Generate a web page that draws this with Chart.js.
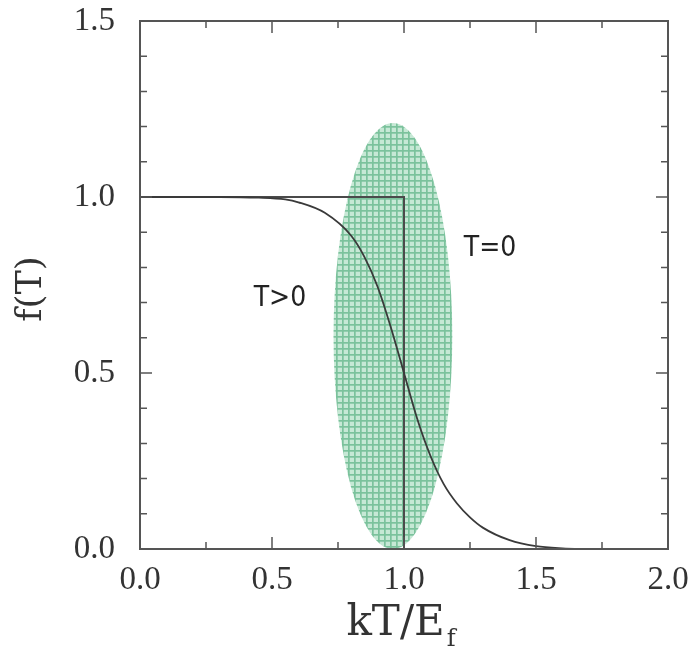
<!DOCTYPE html>
<html>
<head>
<meta charset="utf-8">
<script src="https://cdn.jsdelivr.net/npm/chart.js@4/dist/chart.umd.min.js"></script>
<style>
  html, body { margin: 0; padding: 0; background: #ffffff; }
  #wrap { width: 691px; height: 654px; }
</style>
</head>
<body>
<div id="wrap"><canvas id="c" width="691" height="654"></canvas></div>
<script>
// ---- data ----
const xLabelTicks = [0, 0.5, 1.0, 1.5, 2.0];
const yLabelTicks = [0, 0.5, 1.0, 1.5];

// T>0 (smooth) distribution
const fermiX = [0, 0.3, 0.45, 0.55, 0.6, 0.7, 0.8, 0.85, 0.9, 0.95, 1.0, 1.05, 1.1, 1.15, 1.2, 1.25, 1.3, 1.4, 1.5, 1.6, 1.7];
const fermiY = [1.0, 1.0, 0.998, 0.993, 0.985, 0.955, 0.89, 0.83, 0.745, 0.63, 0.50, 0.37, 0.265, 0.185, 0.13, 0.09, 0.06, 0.025, 0.008, 0.002, 0.0];

// T=0 step
const stepX = [0, 1.0, 1.0];
const stepY = [1.0, 1.0, 0.0];

// shaded ellipse (center, radii) in data units
const ellipseCenter = [0.958, 0.605];
const ellipseRadii = [0.225, 0.605];

// in-plot labels
const noteText = ['T>0', 'T=0'];
const noteX = [0.53, 1.326];
const noteY = [0.712, 0.852];

const xTitle = 'kT/E';
const xTitleSub = 'f';
const yTitle = 'f(T)';

// ---- chart ----
const toPts = (xs, ys) => xs.map((x, i) => ({ x: x, y: ys[i] }));

function makePattern(ctx) {
  const p = document.createElement('canvas');
  p.width = 6; p.height = 6;
  const g = p.getContext('2d');
  g.fillStyle = '#c6e8d5';
  g.fillRect(0, 0, 6, 6);
  g.fillStyle = '#7bc29c';
  g.fillRect(0, 0, 6, 1.7);
  g.fillRect(0, 0, 1.7, 6);
  return ctx.createPattern(p, 'repeat');
}

const decorPlugin = {
  id: 'decor',
  beforeDatasetsDraw(chart) {
    const ctx = chart.ctx;
    const xs = chart.scales.x, ys = chart.scales.y;
    const cx = xs.getPixelForValue(ellipseCenter[0]);
    const cy = ys.getPixelForValue(ellipseCenter[1]);
    const rx = xs.getPixelForValue(ellipseCenter[0] + ellipseRadii[0]) - cx;
    const ry = cy - ys.getPixelForValue(ellipseCenter[1] + ellipseRadii[1]);
    ctx.save();
    ctx.beginPath();
    ctx.ellipse(cx, cy, rx, ry, 0, 0, Math.PI * 2);
    ctx.fillStyle = makePattern(ctx);
    ctx.fill();
    ctx.restore();
  },
  afterDraw(chart) {
    const ctx = chart.ctx;
    const a = chart.chartArea;
    const xs = chart.scales.x, ys = chart.scales.y;
    ctx.save();
    // frame
    ctx.strokeStyle = '#555';
    ctx.lineWidth = 2;
    ctx.strokeRect(a.left, a.top, a.right - a.left, a.bottom - a.top);
    // inward ticks
    ctx.lineWidth = 1.5;
    ctx.beginPath();
    for (let i = 1; i < 8; i++) {
      const v = i * 0.25;
      const len = (i % 2 === 0) ? 12 : 7;
      const px = xs.getPixelForValue(v);
      ctx.moveTo(px, a.bottom); ctx.lineTo(px, a.bottom - len);
      ctx.moveTo(px, a.top); ctx.lineTo(px, a.top + len);
    }
    for (let i = 1; i < 15; i++) {
      const v = i * 0.1;
      const len = (i % 5 === 0) ? 12 : 7;
      const py = ys.getPixelForValue(v);
      ctx.moveTo(a.left, py); ctx.lineTo(a.left + len, py);
      ctx.moveTo(a.right, py); ctx.lineTo(a.right - len, py);
    }
    ctx.stroke();

    // notes
    ctx.fillStyle = '#222';
    ctx.font = '28px "Liberation Sans Narrow", "DejaVu Sans Condensed", "Liberation Sans", sans-serif';
    ctx.textAlign = 'center';
    ctx.textBaseline = 'middle';
    noteText.forEach((t, i) => {
      ctx.fillText(t, xs.getPixelForValue(noteX[i]), ys.getPixelForValue(noteY[i]));
    });

    // x title with subscript
    ctx.fillStyle = '#333';
    ctx.textBaseline = 'alphabetic';
    ctx.textAlign = 'left';
    ctx.font = '42px "DejaVu Serif", serif';
    const mainW = ctx.measureText(xTitle).width;
    ctx.font = '24px "DejaVu Serif", serif';
    const subW = ctx.measureText(xTitleSub).width;
    const total = mainW + subW + 2;
    const startX = (a.left + a.right) / 2 - total / 2 - 3;
    ctx.font = '42px "DejaVu Serif", serif';
    ctx.fillText(xTitle, startX, 635);
    ctx.font = '24px "DejaVu Serif", serif';
    ctx.fillText(xTitleSub, startX + mainW + 2, 646);

    // y title
    ctx.translate(32, (a.top + a.bottom) / 2 + 4);
    ctx.rotate(-Math.PI / 2);
    ctx.textAlign = 'center';
    ctx.textBaseline = 'middle';
    ctx.font = '36px "DejaVu Serif", serif';
    ctx.fillText(yTitle, 0, 0);
    ctx.restore();
  }
};

new Chart(document.getElementById('c'), {
  type: 'line',
  data: {
    datasets: [
      {
        label: 'T>0',
        data: toPts(fermiX, fermiY),
        borderColor: '#3a3a3a',
        borderWidth: 1.8,
        pointRadius: 0,
        cubicInterpolationMode: 'monotone',
        fill: false
      },
      {
        label: 'T=0',
        data: toPts(stepX, stepY),
        borderColor: '#4a4a4a',
        borderWidth: 2,
        pointRadius: 0,
        tension: 0,
        fill: false
      }
    ]
  },
  plugins: [decorPlugin],
  options: {
    responsive: false,
    animation: false,
    events: [],
    layout: { padding: { left: 0, right: 23, top: 21, bottom: 0 } },
    plugins: {
      legend: { display: false },
      tooltip: { enabled: false },
      title: { display: false }
    },
    scales: {
      x: {
        type: 'linear',
        min: 0, max: 2,
        afterBuildTicks(scale) { scale.ticks = xLabelTicks.map(v => ({ value: v })); },
        afterFit(scale) {
          scale.height = 105;
          scale.paddingLeft = 0; scale.paddingRight = 0;
        },
        grid: { display: false, drawTicks: false },
        border: { display: false },
        ticks: {
          padding: 12,
          color: '#333',
          font: { family: '"Liberation Serif", serif', size: 33 },
          callback: v => Number(v).toFixed(1),
          maxRotation: 0,
          autoSkip: false
        }
      },
      y: {
        type: 'linear',
        min: 0, max: 1.5,
        afterBuildTicks(scale) { scale.ticks = yLabelTicks.map(v => ({ value: v })); },
        afterFit(scale) {
          scale.width = 140;
          scale.paddingTop = 0; scale.paddingBottom = 0;
        },
        grid: { display: false, drawTicks: false },
        border: { display: false },
        ticks: {
          padding: 25,
          color: '#333',
          font: { family: '"Liberation Serif", serif', size: 33 },
          callback: v => Number(v).toFixed(1),
          autoSkip: false
        }
      }
    }
  }
});
</script>
</body>
</html>
